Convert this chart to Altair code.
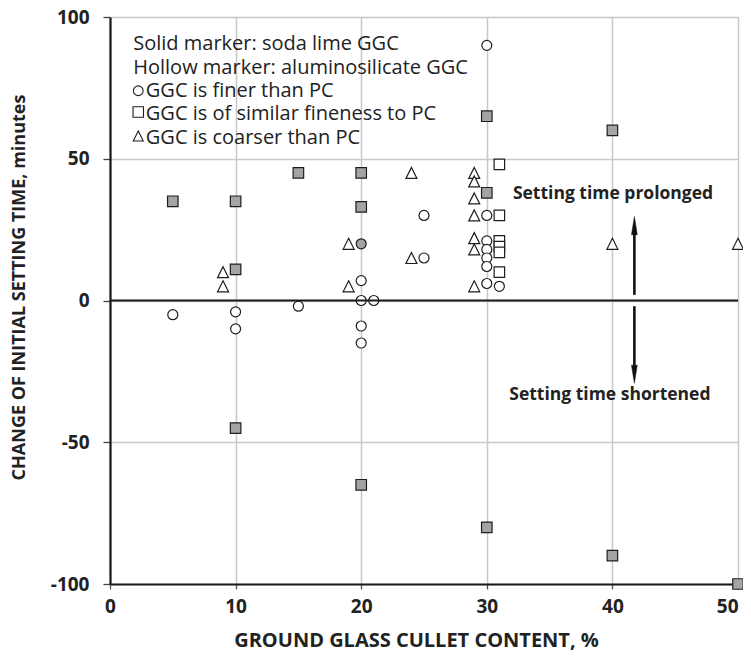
import altair as alt
import pandas as pd

# ---- data ----
# soda lime GGC (solid markers)
sl_square_x = [5, 10, 10, 10, 15, 20, 20, 20, 30, 30, 30, 40, 40, 50]
sl_square_y = [35, 35, 11, -45, 45, 45, 33, -65, 65, 38, -80, 60, -90, -100]
sl_circle_x = [20]
sl_circle_y = [20]
# aluminosilicate GGC (hollow markers)
al_circle_x = [5, 10, 10, 15, 20, 20, 21, 20, 20, 25, 25, 30, 30, 30, 30, 30, 30, 30, 31]
al_circle_y = [-5, -4, -10, -2, 7, 0, 0, -9, -15, 30, 15, 90, 30, 21, 18, 15, 12, 6, 5]
al_square_x = [31, 31, 31, 31, 31, 31]
al_square_y = [48, 30, 21, 19, 17, 10]
al_tri_x = [9, 9, 19, 19, 24, 24, 29, 29, 29, 29, 29, 29, 29, 40, 50]
al_tri_y = [10, 5, 20, 5, 45, 15, 45, 42, 36, 30, 22, 18, 5, 20, 20]

x_ticks = [0, 10, 20, 30, 40, 50]
y_ticks = [-100, -50, 0, 50, 100]

legend_lines = ["Solid marker: soda lime GGC", "Hollow marker: aluminosilicate GGC",
                "GGC is finer than PC", "GGC is of similar fineness to PC",
                "GGC is coarser than PC"]
legend_line_x = [1.85, 1.85, 2.85, 2.85, 2.85]
legend_line_y = [88.5, 80.0, 71.8, 63.6, 55.2]
legend_circle = ([2.25], [74.0])
legend_square = ([2.25], [66.5])
legend_tri = ([2.25], [58.0])

note_text = ["Setting time prolonged", "Setting time shortened"]
note_x = [40.05, 39.8]
note_y = [37.6, -33.3]

arrow_x = [41.75, 41.75]
arrow_from = [2, -2]
arrow_to = [26, -26]
arrow_up_head = ([41.75], [26.4])
arrow_down_head = ([41.75], [-26.0])

# ---- tables ----
rows = []
for xs_, ys_, glass, fin in [
    (al_tri_x, al_tri_y, "aluminosilicate", "coarser"),
    (al_circle_x, al_circle_y, "aluminosilicate", "finer"),
    (al_square_x, al_square_y, "aluminosilicate", "similar"),
    (sl_circle_x, sl_circle_y, "soda lime", "finer"),
    (sl_square_x, sl_square_y, "soda lime", "similar"),
]:
    for a, b in zip(xs_, ys_):
        rows.append({"x": a, "y": b, "glass": glass, "fineness": fin})
df = pd.DataFrame(rows)

TRI = "M0,-1L1,1L-1,1Z"
shape_scale = alt.Scale(domain=["finer", "similar", "coarser"], range=["circle", "square", TRI])
size_scale = alt.Scale(domain=["finer", "similar", "coarser"], range=[100, 121, 125])
fill_scale = alt.Scale(domain=["soda lime", "aluminosilicate"], range=["#a4a4a4", "#ffffff"])

FONT = "Open Sans"
xs = alt.Scale(domain=[0, 50], nice=False, zero=False)
ys = alt.Scale(domain=[-100, 100], nice=False, zero=False)

base_x = alt.X("x:Q", scale=xs, axis=alt.Axis(
    values=x_ticks, grid=True, gridColor="#c8c8c8", gridWidth=1.5,
    domainColor="#1a1a1a", domainWidth=2.2, tickColor="#555", tickSize=5, tickWidth=1.3,
    labelFont=FONT, labelFontWeight="bold", labelFontSize=19, labelColor="#222", labelPadding=8,
    labelFlush=False, labelExpr="'' + datum.value",
    labelAlign={"condition": {"test": "datum.value == 50", "value": "right"}, "value": "center"},
    title="GROUND GLASS CULLET CONTENT, %", titleFont=FONT, titleFontWeight="bold",
    titleFontSize=20, titleColor="#222", titleX=306, titleY=62, titleBaseline="alphabetic",
    titleAlign="center"))
base_y = alt.Y("y:Q", scale=ys, axis=alt.Axis(
    values=y_ticks, grid=True, gridColor="#c8c8c8", gridWidth=1.5,
    domainColor="#1a1a1a", domainWidth=2.2, tickColor="#444", tickSize=7, tickWidth=1.3,
    labelFont=FONT, labelFontWeight="bold", labelFontSize=19, labelColor="#222", labelPadding=14,
    labelFlush=False, labelExpr="'' + datum.value",
    title="CHANGE OF INITIAL SETTING TIME, minutes", titleFont=FONT, titleFontWeight="bold",
    titleFontSize=18, titleColor="#222", titleX=-86, titleY=270, titleAngle=270,
    titleBaseline="alphabetic", titleAlign="center"))

points = alt.Chart(df).mark_point(filled=True, opacity=1, stroke="#1e1e1e", strokeWidth=1.2).encode(
    x=base_x, y=base_y,
    shape=alt.Shape("fineness:N", scale=shape_scale, legend=None),
    size=alt.Size("fineness:N", scale=size_scale, legend=None),
    fill=alt.Fill("glass:N", scale=fill_scale, legend=None),
)

zero = alt.Chart(pd.DataFrame({"y": [0]})).mark_rule(color="#1a1a1a", strokeWidth=2.2).encode(
    y=alt.Y("y:Q", scale=ys))

leg_txt = alt.Chart(pd.DataFrame({"x": legend_line_x, "y": legend_line_y, "t": legend_lines})).mark_text(
    align="left", baseline="alphabetic", font=FONT, fontSize=20, color="#222").encode(
    x=alt.X("x:Q", scale=xs), y=alt.Y("y:Q", scale=ys), text="t:N")


def sym(pos, shape, size, fill="white", stroke="#1e1e1e", sw=1.1):
    return alt.Chart(pd.DataFrame({"x": pos[0], "y": pos[1]})).mark_point(
        filled=True, opacity=1, fill=fill, stroke=stroke, strokeWidth=sw, shape=shape, size=size).encode(
        x=alt.X("x:Q", scale=xs), y=alt.Y("y:Q", scale=ys))


leg_c = sym(legend_circle, "circle", 95)
leg_s = sym(legend_square, "square", 110)
leg_t = sym(legend_tri, TRI, 100)

notes = alt.Chart(pd.DataFrame({"x": note_x, "y": note_y, "t": note_text})).mark_text(
    align="center", baseline="middle", font=FONT, fontSize=17.5, fontWeight="bold", color="#222").encode(
    x=alt.X("x:Q", scale=xs), y=alt.Y("y:Q", scale=ys), text="t:N")

arr_df = pd.DataFrame({"x": arrow_x, "y1": arrow_from, "y2": arrow_to})
shafts = alt.Chart(arr_df).mark_rule(color="#111", strokeWidth=2.6).encode(
    x=alt.X("x:Q", scale=xs), y=alt.Y("y1:Q", scale=ys), y2="y2:Q")
head_up = sym(arrow_up_head, "M0,-1L0.32,1L-0.32,1Z", 330, fill="#111", stroke="#111", sw=0.5)
head_down = sym(arrow_down_head, "M0,1L0.32,-1L-0.32,-1Z", 330, fill="#111", stroke="#111", sw=0.5)

chart = alt.layer(points, zero, leg_txt, leg_c, leg_s, leg_t, notes, shafts, head_up, head_down).properties(
    width=628, height=567,
    padding={"left": 102, "top": 9, "right": 5, "bottom": 67},
    autosize=alt.AutoSizeParams(type="none"),
).configure_view(stroke="#2a2a2a", strokeWidth=1.5).configure(background="white")

chart.save("out.html", embed_options={"renderer": "svg", "actions": False})
